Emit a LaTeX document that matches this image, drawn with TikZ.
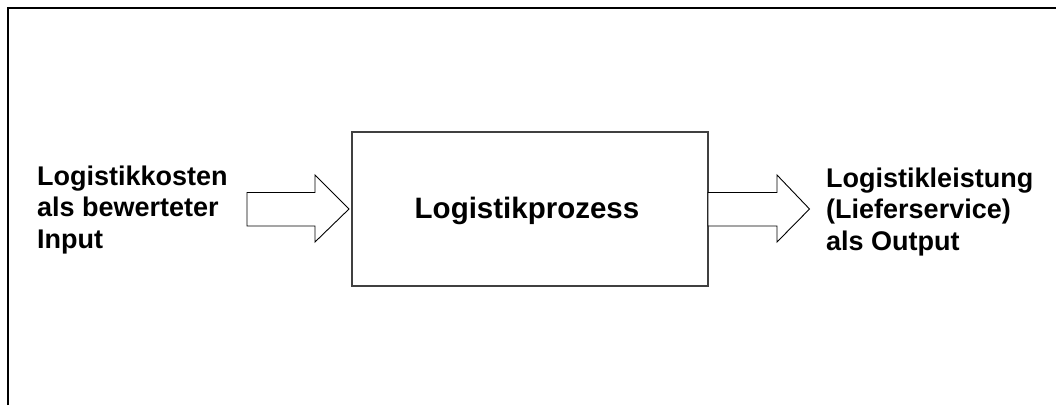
\documentclass[tikz,border=0pt]{standalone}
\usepackage{fontspec}
\setmainfont{Liberation Sans}
\begin{document}
\begin{tikzpicture}[x=1pt,y=-1pt,
  lbl/.style={font=\fontsize{27}{31.5}\selectfont\bfseries, align=left, inner sep=0pt},
  blockarrow/.style={draw=black, line width=0.9pt, fill=white, line join=miter},
  procbox/.style={draw=black!75, line width=1.4pt, fill=white, inner sep=0pt}]
\useasboundingbox (0,0) rectangle (1056,405);
% outer frame (right and bottom outside the picture)
\draw[line width=2pt] (8,405) -- (8,8) -- (1056,8);
% process box
\node[procbox, minimum width=356pt, minimum height=154pt] (proc) at (530,209) {};
\node[font=\fontsize{29.5}{34}\selectfont\bfseries, inner sep=0pt] (proctext) at (527,211) {Logistikprozess};
% input arrow
\draw[blockarrow] (247,192.5) -- (315,192.5) -- (315,175) -- (349,209) -- (315,242) -- (315,226) -- (247,226) -- cycle;
% output arrow
\draw[blockarrow] (708,192.5) -- (777,192.5) -- (777,175) -- (809.5,209) -- (777,242) -- (777,226) -- (708,226) -- cycle;
% labels
\node[lbl, anchor=west] (in) at (37,210) {Logistikkosten\\als bewerteter\\Input};
\node[lbl, anchor=west] (out) at (826,212) {Logistikleistung\\(Lieferservice)\\als Output};
\end{tikzpicture}
\end{document}
